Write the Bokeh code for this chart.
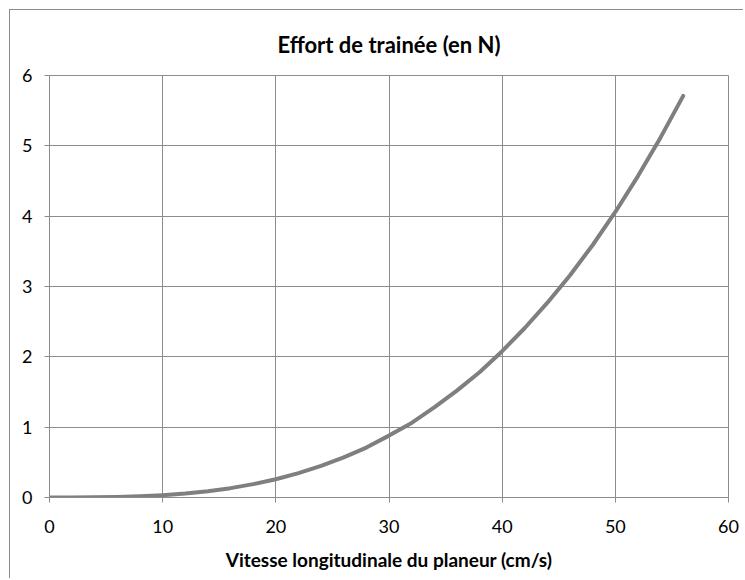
from bokeh.plotting import figure
from bokeh.embed import file_html
from bokeh.resources import INLINE
from bokeh.models import FixedTicker, Range1d

speed = [0, 2, 4, 6, 8, 10, 12, 14, 16, 18, 20, 22, 24, 26, 28, 30, 32, 34, 36, 38,
         40, 42, 44, 46, 48, 50, 52, 54, 56]
effort = [0.0, 0.0003, 0.002, 0.007, 0.017, 0.033, 0.056, 0.089, 0.133, 0.19, 0.26,
          0.346, 0.45, 0.57, 0.71, 0.88, 1.06, 1.28, 1.52, 1.78, 2.08, 2.41, 2.77,
          3.16, 3.59, 4.06, 4.57, 5.12, 5.71]
x_ticks = [0, 10, 20, 30, 40, 50, 60]
y_ticks = [0, 1, 2, 3, 4, 5, 6]

FONT = "Lato"
GRAY = "#8c8c8c"

p = figure(width=734, height=569, output_backend="svg", toolbar_location=None,
           x_range=Range1d(0, 60), y_range=Range1d(0, 6),
           min_border_left=39, min_border_right=16, min_border_top=65,
           min_border_bottom=82,
           styles={"margin-left": "9px", "margin-top": "9px",
                   "border-left": "1px solid #8c8c8c", "border-top": "1px solid #8c8c8c"})

p.title.text = "Effort de trainée (en N)"
p.title.align = "center"
p.title.text_font = FONT
p.title.text_font_size = "22px"
p.title.text_font_style = "bold"
p.title.text_color = "#000000"
p.title.offset = -4
p.title.standoff = 36

p.line(speed, effort, line_color="#7f7f7f", line_width=4, line_cap="round",
       line_join="round")

p.outline_line_color = GRAY
p.outline_line_width = 1

for ax in (p.xaxis[0], p.yaxis[0]):
    ax.axis_line_color = GRAY
    ax.major_tick_line_color = GRAY
    ax.major_tick_out = 5
    ax.major_tick_in = 0
    ax.minor_tick_line_color = None
    ax.major_label_text_font = FONT
    ax.major_label_text_font_size = "18px"
    ax.major_label_text_color = "#000000"

p.xaxis[0].ticker = FixedTicker(ticks=x_ticks)
p.yaxis[0].ticker = FixedTicker(ticks=y_ticks)
p.xaxis[0].major_label_standoff = 17
p.yaxis[0].major_label_standoff = 12
p.xaxis[0].axis_label = "Vitesse longitudinale du planeur (cm/s)"
p.xaxis[0].axis_label_text_font = FONT
p.xaxis[0].axis_label_text_font_size = "19px"
p.xaxis[0].axis_label_text_font_style = "bold"
p.xaxis[0].axis_label_text_color = "#000000"
p.xaxis[0].axis_label_standoff = 12

p.xgrid.ticker = FixedTicker(ticks=x_ticks)
p.ygrid.ticker = FixedTicker(ticks=y_ticks)
p.xgrid.grid_line_color = GRAY
p.ygrid.grid_line_color = GRAY
p.grid.grid_line_width = 1

open("out.html", "w").write(file_html(p, INLINE))
